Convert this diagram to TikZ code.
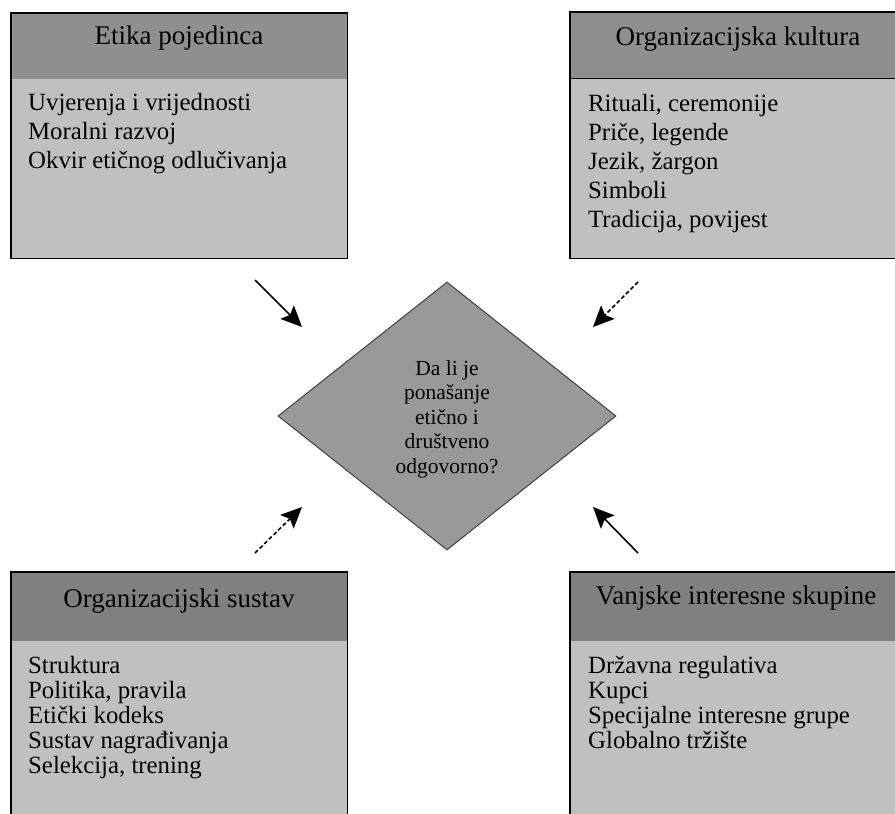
\documentclass[tikz,border=0pt]{standalone}
\usepackage{fontspec}
\setmainfont{Liberation Serif}
\usetikzlibrary{shapes.geometric,arrows.meta}
\definecolor{hdrtop}{gray}{0.56}
\definecolor{hdrbot}{gray}{0.50}
\definecolor{bodyfill}{gray}{0.753}
\definecolor{diafill}{gray}{0.60}
\tikzset{
  hdrbox/.style={rectangle, inner sep=0pt, minimum width=336pt, minimum height=66pt, anchor=north west},
  bodybox/.style={rectangle, inner sep=0pt, minimum width=336pt, fill=bodyfill, anchor=north west},
  frame/.style={draw=black, line width=1.8pt},
  title/.style={anchor=base, inner sep=0pt, font=\fontsize{27}{32}\selectfont},
  item/.style={anchor=base west, inner sep=0pt, font=\fontsize{24.8}{29}\selectfont},
  question/.style={align=center, inner sep=0pt, font=\fontsize{21.5}{24.5}\selectfont},
  influence/.style={line width=1.6pt, -{Stealth[length=21pt,width=19pt,inset=4pt]}},
  dashinfl/.style={influence, dash pattern=on 4pt off 2.5pt}
}
\begin{document}
\begin{tikzpicture}[x=1pt,y=-1pt]
\useasboundingbox (0,0) rectangle (895,814);
\clip (0,0) rectangle (895,814);
% ---- top left box
\node[hdrbox, fill=hdrtop, draw=black, line width=1.2pt] (tlh) at (11,13) {};
\node[bodybox, minimum height=179pt] (tlb) at (11,79) {};
\draw[frame] (tlh.north west) rectangle (tlb.south east);
\node[title] (tlt) at (179,44) {Etika pojedinca};
\node[item] (tl1) at (28,110) {Uvjerenja i vrijednosti};
\node[item] (tl2) at (28,139) {Moralni razvoj};
\node[item] (tl3) at (28,168) {Okvir etičnog odlučivanja};
% ---- top right box
\node[hdrbox, fill=hdrtop, draw=black, line width=1.2pt] (trh) at (570,12) {};
\node[bodybox, minimum height=179pt] (trb) at (570,79) {};
\draw[frame] (trh.north west) rectangle (trb.south east);
\node[title] (trt) at (738,45) {Organizacijska kultura};
\node[item] (tr1) at (588,111) {Rituali, ceremonije};
\node[item] (tr2) at (588,140) {Priče, legende};
\node[item] (tr3) at (588,169) {Jezik, žargon};
\node[item] (tr4) at (588,198) {Simboli};
\node[item] (tr5) at (588,227) {Tradicija, povijest};
% ---- bottom left box
\node[hdrbox, fill=hdrbot, minimum height=69pt] (blh) at (11,572) {};
\node[bodybox, minimum height=180pt] (blb) at (11,641) {};
\draw[frame] (blh.north west) rectangle (blb.south east);
\node[title] (blt) at (179,607) {Organizacijski sustav};
\node[item] (bl1) at (28,673) {Struktura};
\node[item] (bl2) at (28,698) {Politika, pravila};
\node[item] (bl3) at (28,723) {Etički kodeks};
\node[item] (bl4) at (28,748) {Sustav nagrađivanja};
\node[item] (bl5) at (28,773) {Selekcija, trening};
% ---- bottom right box
\node[hdrbox, fill=hdrbot, minimum height=69pt] (brh) at (570,572) {};
\node[bodybox, minimum height=180pt] (brb) at (570,641) {};
\draw[frame] (brh.north west) rectangle (brb.south east);
\node[title] (brt) at (736,604) {Vanjske interesne skupine};
\node[item] (br1) at (588,673) {Državna regulativa};
\node[item] (br2) at (588,698) {Kupci};
\node[item] (br3) at (588,723) {Specijalne interesne grupe};
\node[item] (br4) at (588,748) {Globalno tržište};
% ---- diamond
\node[diamond, aspect=1, inner sep=0pt, minimum width=338pt, minimum height=268pt,
      fill=diafill, draw=black!75, line width=1pt] (dia) at (447,416) {};
\node[question] (q) at (447,419) {Da li je\\ponašanje\\etično i\\društveno\\odgovorno?};
% ---- arrows
\coordinate (a1s) at (255,280); \coordinate (a1e) at (302,327);
\coordinate (a2s) at (638,282); \coordinate (a2e) at (593,327);
\coordinate (a3s) at (255,553); \coordinate (a3e) at (302,507);
\coordinate (a4s) at (638,553); \coordinate (a4e) at (593,507);
\draw[influence] (a1s) -- (a1e);
\draw[dashinfl] (a2s) -- (a2e);
\draw[dashinfl] (a3s) -- (a3e);
\draw[influence] (a4s) -- (a4e);
\end{tikzpicture}
\end{document}
